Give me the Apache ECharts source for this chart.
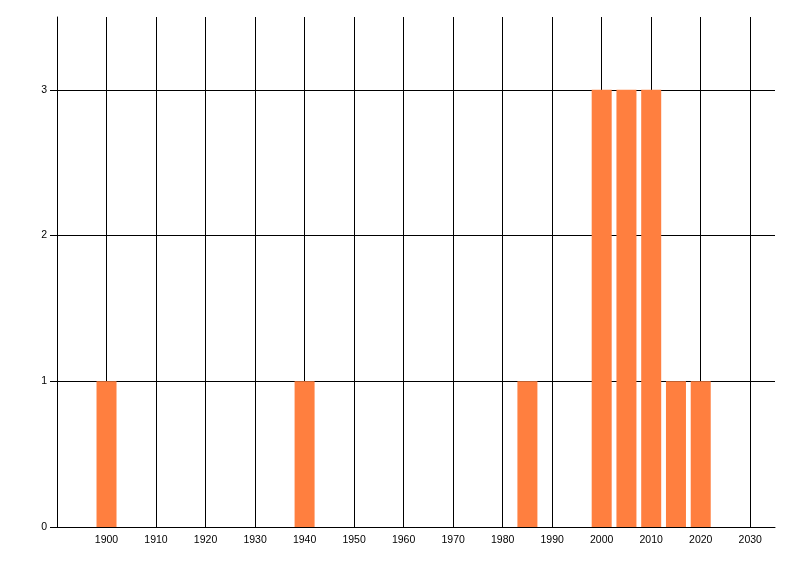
<!DOCTYPE html>
<html>
<head>
<meta charset="utf-8">
<script src="https://cdn.jsdelivr.net/npm/echarts@6/dist/echarts.min.js"></script>
<style>
html, body { margin: 0; padding: 0; background: #fff; }
#chart { width: 800px; height: 576px; }
</style>
</head>
<body>
<div id="chart"></div>
<script>
// years on the x axis and how many fall on each one
var years = [1900, 1940, 1985, 2000, 2005, 2010, 2015, 2020];
var counts = [1, 1, 1, 3, 3, 3, 1, 1];
var yTicks = [0, 1, 2, 3];

var chart = echarts.init(document.getElementById('chart'));
var lineStyle = {color: '#000', width: 1};
var labelFont = {color: '#000', fontSize: 10.5, fontFamily: 'Liberation Sans'};

chart.setOption({
    animation: false,
    grid: {left: 57, right: 25, top: 17, bottom: 49},
    xAxis: {
        type: 'value',
        min: 1890,
        max: 2035,
        interval: 10,
        axisLine: {lineStyle: lineStyle},
        axisTick: {show: false},
        axisLabel: Object.assign({
            margin: 8,
            showMinLabel: false,
            showMaxLabel: false,
            formatter: function (v) {
                return (v === 1890 || v === 2035) ? '' : String(v);
            }
        }, labelFont),
        splitLine: {show: true, showMinLine: false, showMaxLine: false, lineStyle: lineStyle}
    },
    yAxis: {
        type: 'value',
        min: 0,
        max: 3.5,
        interval: 1,
        axisLine: {show: true, lineStyle: lineStyle},
        axisTick: {show: true, length: 7, lineStyle: lineStyle},
        axisLabel: Object.assign({
            margin: 10,
            showMaxLabel: false,
            formatter: function (v) {
                return yTicks.indexOf(v) >= 0 ? String(v) : '';
            }
        }, labelFont),
        splitLine: {show: true, showMinLine: false, showMaxLine: false, lineStyle: lineStyle}
    },
    series: [{
        type: 'bar',
        barWidth: 20,
        itemStyle: {color: '#FF7F3F'},
        data: years.map(function (y, i) {
            return [y, counts[i]];
        })
    }]
});
</script>
</body>
</html>
